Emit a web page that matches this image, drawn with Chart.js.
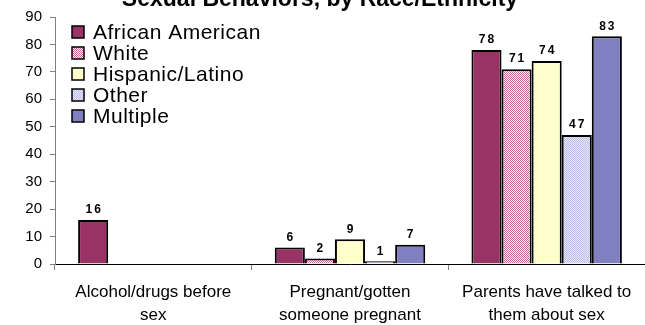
<!DOCTYPE html>
<html>
<head>
<meta charset="utf-8">
<script src="https://cdn.jsdelivr.net/npm/chart.js@4/dist/chart.umd.min.js"></script>
<style>
html,body{margin:0;padding:0;background:#fff;}
#wrap{width:645px;height:325px;position:relative;}
</style>
</head>
<body>
<div id="wrap"><canvas id="c" width="645" height="325"></canvas></div>
<script>
const titleText = "Sexual Behaviors, by Race/Ethnicity";
const categories = [["Alcohol/drugs before","sex"],["Pregnant/gotten","someone pregnant"],["Parents have talked to","them about sex"]];
const seriesNames = ["African American","White","Hispanic/Latino","Other","Multiple"];
const africanAmerican = [16, 6, 78];
const white = [null, 2, 71];
const hispanicLatino = [null, 9, 74];
const other = [null, 1, 47];
const multiple = [null, 7, 83];
const yTicks = [0,10,20,30,40,50,60,70,80,90];

function checker(c1, c2){
  const p = document.createElement('canvas');
  p.width = 2; p.height = 2;
  const g = p.getContext('2d');
  g.fillStyle = c2; g.fillRect(0,0,2,2);
  g.fillStyle = c1; g.fillRect(0,0,1,1); g.fillRect(1,1,1,1);
  return document.getElementById('c').getContext('2d').createPattern(p,'repeat');
}
const fills = [
  '#993366',
  checker('#CC6699','#FFFFFF'),
  '#FFFFCC',
  checker('#BEBEE6','#E6E6F6'),
  '#8080C0'
];
const seriesData = [africanAmerican, white, hispanicLatino, other, multiple];

const datasets = seriesNames.map((n,i)=>({
  label: n,
  data: seriesData[i],
  backgroundColor: fills[i],
  borderColor: '#000',
  borderWidth: 2,
  borderSkipped: 'bottom',
  barPercentage: 1.0,
  categoryPercentage: 0.765
}));

const titlePlugin = {
  id: 'titleP',
  afterDraw(chart){
    const ctx = chart.ctx;
    ctx.save();
    ctx.font = 'bold 23px "Liberation Sans", Arial, sans-serif';
    ctx.fillStyle = '#000';
    ctx.textAlign = 'center';
    ctx.textBaseline = 'alphabetic';
    ctx.fillText(titleText, 320, 6);
    ctx.restore();
  }
};

const labelPlugin = {
  id: 'valLabels',
  afterDatasetsDraw(chart){
    const ctx = chart.ctx;
    ctx.save();
    ctx.font = 'bold 12px "Liberation Sans", Arial, sans-serif';
    ctx.fillStyle = '#000';
    ctx.textAlign = 'center';
    ctx.textBaseline = 'middle';
    try { ctx.letterSpacing = '2px'; } catch(e){}
    chart.data.datasets.forEach((ds, di)=>{
      const meta = chart.getDatasetMeta(di);
      meta.data.forEach((bar, idx)=>{
        const v = ds.data[idx];
        if (v === null || v === undefined) return;
        ctx.fillText(String(v), bar.x + 1, bar.y - 10);
      });
    });
    ctx.restore();
  }
};

const legendPlugin = {
  id: 'legendP',
  afterDraw(chart){
    const ctx = chart.ctx;
    ctx.save();
    ctx.font = '21px "Liberation Sans", Arial, sans-serif';
    ctx.textBaseline = 'middle';
    ctx.textAlign = 'left';
    try { ctx.letterSpacing = '0.5px'; } catch(e){}
    chart.data.datasets.forEach((ds, i)=>{
      const cy = 32 + i*21;
      ctx.fillStyle = ds.backgroundColor;
      ctx.fillRect(72, cy-6, 12, 12);
      ctx.strokeStyle = '#000';
      ctx.lineWidth = 1.5;
      ctx.strokeRect(72, cy-6, 12, 12);
      ctx.fillStyle = '#000';
      ctx.fillText(ds.label, 93, cy+1);
    });
    ctx.restore();
  }
};

new Chart(document.getElementById('c'), {
  type: 'bar',
  data: { labels: categories, datasets },
  options: {
    responsive: false,
    animation: false,
    devicePixelRatio: 1,
    layout: { padding: { top: 14, right: 0, left: 0, bottom: 0 } },
    plugins: { legend: { display: false }, title: { display: false }, tooltip: { enabled: false } },
    scales: {
      x: {
        grid: { display: true, drawOnChartArea: false, offset: true, tickLength: 6, color: '#808080', lineWidth: 1 },
        border: { display: true, color: '#000', width: 1 },
        ticks: {
          color: '#000',
          font: { family: '"Liberation Sans", Arial, sans-serif', size: 17, lineHeight: 1.35 },
          padding: 11,
          maxRotation: 0,
          autoSkip: false
        },
        afterFit(s){ s.height = 61; }
      },
      y: {
        min: 0, max: 90,
        afterBuildTicks(s){ s.ticks = yTicks.map(v=>({value:v})); },
        grid: { display: true, drawOnChartArea: false, tickLength: 5, color: '#808080' },
        border: { display: true, color: '#808080', width: 1 },
        ticks: {
          color: '#000',
          font: { family: '"Liberation Sans", Arial, sans-serif', size: 15 },
          padding: 8
        },
        afterFit(s){ s.width = 55; }
      }
    }
  },
  plugins: [titlePlugin, labelPlugin, legendPlugin]
});
</script>
</body>
</html>
